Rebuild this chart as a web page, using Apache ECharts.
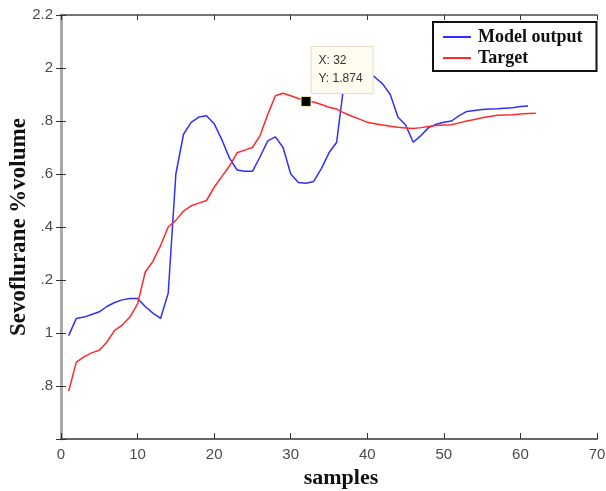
<!DOCTYPE html>
<html lang="en">
<head>
    <meta charset="UTF-8">
    <title>Sevoflurane model output vs target</title>
    <script src="https://cdn.jsdelivr.net/npm/echarts@6/dist/echarts.min.js"></script>
    <style>
        body, html {
            margin: 0;
            padding: 0;
            width: 100%;
            height: 100%;
            background: #fff;
        }
        #chart {
            width: 606px;
            height: 491px;
        }
    </style>
</head>
<body>
    <div id="chart"></div>
    <script>
        // samples 1..N
        var modelOutput = [
            0.99, 1.055, 1.06, 1.07, 1.08, 1.10, 1.115, 1.125, 1.13, 1.13,
            1.10, 1.075, 1.055, 1.15, 1.60, 1.75, 1.795, 1.815, 1.82, 1.79,
            1.73, 1.66, 1.615, 1.61, 1.61, 1.665, 1.725, 1.74, 1.70, 1.60,
            1.568, 1.565, 1.572, 1.62, 1.68, 1.72, 1.95, 1.98, 1.99, 1.98,
            1.965, 1.94, 1.90, 1.815, 1.785, 1.72, 1.745, 1.775, 1.788, 1.795,
            1.80, 1.82, 1.836, 1.84, 1.843, 1.845, 1.846, 1.848, 1.85, 1.855,
            1.857
        ];
        var target = [
            0.78, 0.89, 0.91, 0.925, 0.935, 0.966, 1.01, 1.03, 1.06, 1.11,
            1.23, 1.27, 1.33, 1.40, 1.425, 1.46, 1.48, 1.49, 1.50, 1.55,
            1.59, 1.63, 1.68, 1.69, 1.70, 1.745, 1.825, 1.895, 1.905, 1.895,
            1.885, 1.874, 1.872, 1.862, 1.852, 1.845, 1.83, 1.818, 1.807, 1.795,
            1.79, 1.785, 1.78, 1.776, 1.774, 1.772, 1.775, 1.779, 1.783, 1.785,
            1.786, 1.793, 1.80, 1.806, 1.812, 1.817, 1.822, 1.823, 1.824, 1.826,
            1.828, 1.829
        ];
        var yTickLabels = ['', '.8', '1', '.2', '.4', '.6', '.8', '2', '2.2'];
        var cursorPoint = [32, 1.874];

        function toPairs(arr) {
            return arr.map(function (v, i) { return [i + 1, v]; });
        }

        var tickFont = { fontFamily: 'Liberation Sans, Arial, sans-serif', fontSize: 15, color: '#4a4a4a' };
        var titleFont = { fontFamily: 'Liberation Serif, Times New Roman, serif', fontWeight: 'bold', fontSize: 22, color: '#111' };

        var chart = echarts.init(document.getElementById('chart'));
        chart.setOption({
            animation: false,
            backgroundColor: '#fff',
            grid: { left: 61, top: 15, right: 9, bottom: 52, outerBoundsMode: 'none', containLabel: false },
            legend: {
                orient: 'vertical',
                left: 433,
                top: 22,
                width: 150,
                padding: [6, 14, 4, 10],
                itemGap: 3,
                itemWidth: 28,
                itemHeight: 2,
                icon: 'rect',
                borderColor: '#111',
                borderWidth: 2,
                borderRadius: 0,
                backgroundColor: '#fff',
                textStyle: { fontFamily: 'Liberation Serif, Times New Roman, serif', fontWeight: 'bold', fontSize: 18, color: '#111', padding: [0, 0, 0, 2] },
                data: ['Model output', 'Target']
            },
            xAxis: [{
                type: 'value', min: 0, max: 70, interval: 10,
                name: 'samples', nameLocation: 'middle', nameGap: 28, nameMoveOverlap: false,
                nameTextStyle: Object.assign({ padding: [0, 0, 0, 24] }, titleFont),
                axisLine: { lineStyle: { color: '#666', width: 2 } },
                axisTick: { inside: true, length: 6, lineStyle: { color: '#333' } },
                axisLabel: Object.assign({ margin: 8 }, tickFont),
                splitLine: { show: false }
            }, {
                type: 'value', min: 0, max: 70, interval: 10, position: 'top',
                axisLine: { show: true, lineStyle: { color: '#777', width: 2 } },
                axisTick: { inside: true, length: 5, lineStyle: { color: '#333' } },
                axisLabel: { show: false },
                splitLine: { show: false }
            }],
            yAxis: [{
                type: 'value', min: 0.6, max: 2.2, interval: 0.2,
                name: 'Sevoflurane %volume', nameLocation: 'middle', nameGap: 30, nameMoveOverlap: false,
                nameTextStyle: Object.assign({}, titleFont, { fontSize: 23 }),
                axisLine: { show: true, lineStyle: { color: '#aaa', width: 3 } },
                axisTick: { inside: true, length: 5, lineStyle: { color: '#333' } },
                axisLabel: Object.assign({
                    margin: 8,
                    formatter: function (v) {
                        return yTickLabels[Math.round((v - 0.6) / 0.2)] || '';
                    }
                }, tickFont),
                splitLine: { show: false }
            }, {
                type: 'value', min: 0.6, max: 2.2, interval: 0.2, position: 'right',
                axisLine: { show: true, lineStyle: { color: '#aaa', width: 2 } },
                axisTick: { show: true, inside: true, length: 5, lineStyle: { color: '#333' } },
                axisLabel: { show: false },
                splitLine: { show: false }
            }],
            series: [{
                name: 'Model output',
                type: 'line',
                data: toPairs(modelOutput),
                showSymbol: false,
                color: '#2f2fff',
                lineStyle: { width: 1.5 },
                z: 2
            }, {
                name: 'Target',
                type: 'line',
                data: toPairs(target),
                showSymbol: false,
                color: '#ff2a2a',
                lineStyle: { width: 1.5 },
                z: 3,
                markPoint: {
                    symbol: 'rect',
                    symbolSize: 10,
                    itemStyle: { color: '#000', borderColor: '#f6efb0', borderWidth: 1 },
                    label: {
                        show: true,
                        position: [11, -49],
                        formatter: 'X: 32\nY: 1.874',
                        fontFamily: 'Liberation Sans, Arial, sans-serif',
                        fontSize: 12,
                        lineHeight: 18,
                        color: '#333',
                        backgroundColor: '#fffbee',
                        borderColor: '#e4dfc8',
                        borderWidth: 1,
                        padding: [5, 10, 5, 7]
                    },
                    data: [{ coord: cursorPoint }]
                }
            }]
        });
    </script>
</body>
</html>
